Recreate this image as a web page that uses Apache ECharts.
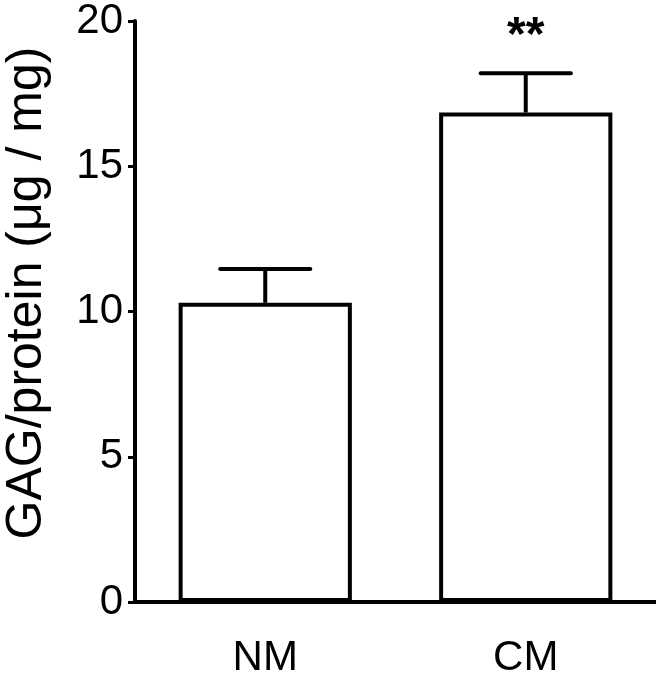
<!DOCTYPE html>
<html>
<head>
<meta charset="utf-8">
<script src="https://cdn.jsdelivr.net/npm/echarts@6/dist/echarts.min.js"></script>
<style>html,body{margin:0;padding:0;background:#fff;}#c{width:656px;height:679px;}</style>
</head>
<body>
<div id="c"></div>
<script>
const categories = ['NM', 'CM'];
const means = [10.3, 16.85];
const errors = [1.16, 1.35];
const significance = ['', '**'];
const yTicks = [0, 5, 10, 15, 20];
const yTitle = 'GAG/protein (\u03bcg / mg)';

const FONT = '"Liberation Sans", Arial, sans-serif';
const chart = echarts.init(document.getElementById('c'), null, {renderer: 'canvas'});
chart.setOption({
  animation: false,
  backgroundColor: '#ffffff',
  grid: {left: 135, right: 0, top: 19, bottom: 66},
  graphic: [{
    type: 'text',
    x: 27, y: 293,
    rotation: Math.PI / 2,
    style: {text: yTitle, font: '50px ' + FONT, fill: '#000', align: 'center', verticalAlign: 'middle'}
  }],
  xAxis: {
    type: 'category',
    data: categories,
    axisLine: {lineStyle: {color: '#000', width: 4}},
    axisTick: {alignWithLabel: true, length: 6, lineStyle: {color: '#000', width: 3}},
    axisLabel: {color: '#000', fontSize: 42, fontFamily: FONT, margin: 35}
  },
  yAxis: {
    type: 'value',
    min: yTicks[0],
    max: yTicks[yTicks.length - 1],
    interval: 5,
    axisLine: {show: true, lineStyle: {color: '#000', width: 4}},
    axisTick: {show: true, length: 7, lineStyle: {color: '#000', width: 3}},
    splitLine: {show: false},
    axisLabel: {color: '#000', fontSize: 42, fontFamily: FONT, margin: 12}
  },
  series: [
    {
      type: 'bar',
      data: means,
      barWidth: '66.5%',
      itemStyle: {color: '#fff', borderColor: '#000', borderWidth: 4},
      z: 2
    },
    {
      type: 'custom',
      data: categories.map((c, i) => [i, means[i], errors[i]]),
      z: 3,
      renderItem: function (params, api) {
        const i = api.value(0);
        const m = api.value(1);
        const e = api.value(2);
        const base = api.coord([i, m]);
        const top = api.coord([i, m + e]);
        const bw = api.size([1, 0])[0];
        const half = bw * 0.173;
        const children = [
          {type: 'line', shape: {x1: base[0], y1: base[1], x2: top[0], y2: top[1]}, style: {stroke: '#000', lineWidth: 4}},
          {type: 'line', shape: {x1: top[0] - half, y1: top[1], x2: top[0] + half, y2: top[1]}, style: {stroke: '#000', lineWidth: 4, lineCap: 'round'}}
        ];
        const s = significance[params.dataIndex];
        if (s) {
          children.push({type: 'text', style: {text: s, x: top[0], y: top[1] - 37, align: 'center', verticalAlign: 'middle', font: 'bold 48px ' + FONT, fill: '#000'}});
        }
        return {type: 'group', children: children};
      }
    }
  ]
});
</script>
</body>
</html>
